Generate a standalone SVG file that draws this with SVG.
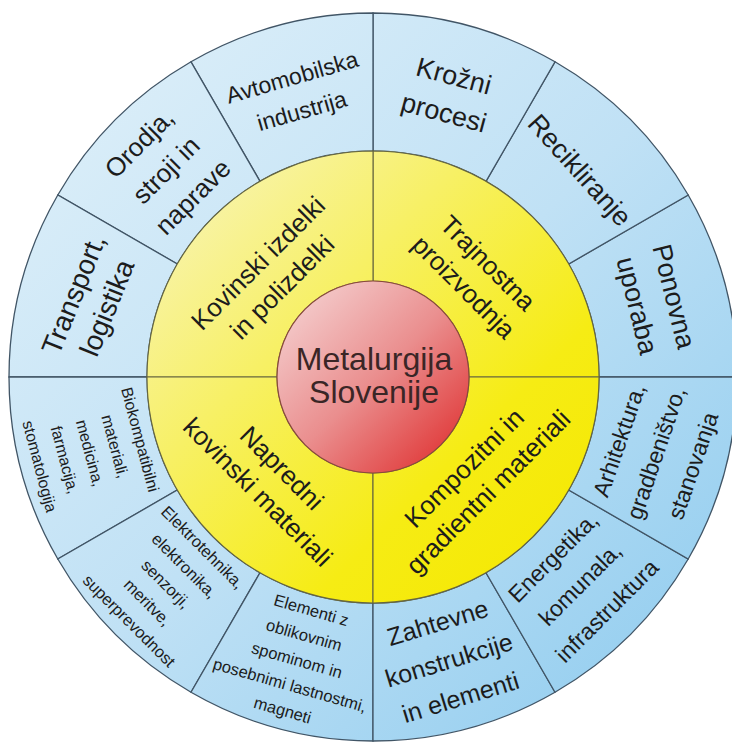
<svg xmlns="http://www.w3.org/2000/svg" width="732" height="742" viewBox="0 0 732 742">
<defs>
<linearGradient id="gBlue" gradientUnits="userSpaceOnUse" x1="60" y1="60" x2="690" y2="700">
<stop offset="0" stop-color="#ddeff9"/>
<stop offset="0.5" stop-color="#c0e1f5"/>
<stop offset="1" stop-color="#92cdef"/>
</linearGradient>
<linearGradient id="gYellow" gradientUnits="userSpaceOnUse" x1="170" y1="170" x2="580" y2="580">
<stop offset="0" stop-color="#f8f4b8"/>
<stop offset="0.35" stop-color="#f7f065"/>
<stop offset="0.7" stop-color="#f6ec14"/>
<stop offset="1" stop-color="#f5e800"/>
</linearGradient>
<linearGradient id="gRed" gradientUnits="userSpaceOnUse" x1="290" y1="290" x2="460" y2="465">
<stop offset="0" stop-color="#f5d2d2"/>
<stop offset="0.5" stop-color="#ea8e8e"/>
<stop offset="1" stop-color="#df2e2e"/>
</linearGradient>
<style>
.ob{fill:url(#gBlue);stroke:#415566;stroke-width:1.3}
.yl{fill:url(#gYellow);stroke:#66663f;stroke-width:1.1}
.t{font-family:"Liberation Sans",Arial,sans-serif;fill:#1c1c1c;text-anchor:middle}
.big{font-size:27px}
.mid{font-size:23px}
.sm{font-size:16.5px}
.yt{font-size:26px}
</style>
</defs>
<rect width="732" height="742" fill="#ffffff"/>

<g id="ponovna-uporaba">
<path class="ob" d="M737,377 A364,364 0 0 0 688.2,195 L568.7,264 A226,226 0 0 1 599,377 Z"/>
<text class="t big" transform="translate(656 301) rotate(76)"><tspan x="0" y="-9.5">Ponovna</tspan><tspan x="0" y="28.5">uporaba</tspan></text>
</g>
<g id="recikliranje">
<path class="ob" d="M688.2,195 A364,364 0 0 0 555,61.8 L486,181.3 A226,226 0 0 1 568.7,264 Z"/>
<text class="t big" transform="translate(580 170) rotate(48)"><tspan x="0" y="9.5">Recikliranje</tspan></text>
</g>
<g id="krozni-procesi">
<path class="ob" d="M555,61.8 A364,364 0 0 0 373,13 L373,151 A226,226 0 0 1 486,181.3 Z"/>
<text class="t big" transform="translate(449 94) rotate(15)"><tspan x="0" y="-9.5">Krožni</tspan><tspan x="0" y="28.5">procesi</tspan></text>
</g>
<g id="avtomobilska-industrija">
<path class="ob" d="M373,13 A364,364 0 0 0 191,61.8 L260,181.3 A226,226 0 0 1 373,151 Z"/>
<text class="t mid" transform="translate(297 94) rotate(-16)"><tspan x="0" y="-9.5">Avtomobilska</tspan><tspan x="0" y="25.5">industrija</tspan></text>
</g>
<g id="orodja-stroji-naprave">
<path class="ob" d="M191,61.8 A364,364 0 0 0 57.8,195 L177.3,264 A226,226 0 0 1 260,181.3 Z"/>
<text class="t" style="font-size:26px" transform="translate(166 170) rotate(-45)"><tspan x="0" y="-28.9">Orodja,</tspan><tspan x="0" y="9.1">stroji in</tspan><tspan x="0" y="47.1">naprave</tspan></text>
</g>
<g id="transport-logistika">
<path class="ob" d="M57.8,195 A364,364 0 0 0 9,377 L147,377 A226,226 0 0 1 177.3,264 Z"/>
<text class="t" style="font-size:28px" transform="translate(90 301) rotate(-68)"><tspan x="0" y="-8.2">Transport,</tspan><tspan x="0" y="27.8">logistika</tspan></text>
</g>
<g id="biokompatibilni-materiali">
<path class="ob" d="M9,377 A364,364 0 0 0 57.8,559 L177.3,490 A226,226 0 0 1 147,377 Z"/>
<text class="t" style="font-size:16px" transform="translate(90 453) rotate(75)"><tspan x="0" y="-46.4">Biokompatibilni</tspan><tspan x="0" y="-20.4">materiali,</tspan><tspan x="0" y="5.6">medicina,</tspan><tspan x="0" y="31.6">farmacija,</tspan><tspan x="0" y="57.6">stomatologija</tspan></text>
</g>
<g id="elektrotehnika-elektronika">
<path class="ob" d="M57.8,559 A364,364 0 0 0 191,692.2 L260,572.7 A226,226 0 0 1 177.3,490 Z"/>
<text class="t sm" transform="translate(166 584) rotate(45)"><tspan x="0" y="-46.2">Elektrotehnika,</tspan><tspan x="0" y="-20.2">elektronika,</tspan><tspan x="0" y="5.8">senzorji,</tspan><tspan x="0" y="31.8">meritve,</tspan><tspan x="0" y="57.8">superprevodnost</tspan></text>
</g>
<g id="elementi-z-oblikovnim-spominom">
<path class="ob" d="M191,692.2 A364,364 0 0 0 373,741 L373,603 A226,226 0 0 1 260,572.7 Z"/>
<text class="t sm" transform="translate(297 660) rotate(16)"><tspan x="0" y="-46.2">Elementi z</tspan><tspan x="0" y="-20.2">oblikovnim</tspan><tspan x="0" y="5.8">spominom in</tspan><tspan x="0" y="31.8">posebnimi lastnostmi,</tspan><tspan x="0" y="57.8">magneti</tspan></text>
</g>
<g id="zahtevne-konstrukcije">
<path class="ob" d="M373,741 A364,364 0 0 0 555,692.2 L486,572.7 A226,226 0 0 1 373,603 Z"/>
<text class="t" style="font-size:25px" transform="translate(449 660) rotate(-17)"><tspan x="0" y="-30.25">Zahtevne</tspan><tspan x="0" y="8.75">konstrukcije</tspan><tspan x="0" y="47.75">in elementi</tspan></text>
</g>
<g id="energetika-komunala">
<path class="ob" d="M555,692.2 A364,364 0 0 0 688.2,559 L568.7,490 A226,226 0 0 1 486,572.7 Z"/>
<text class="t mid" transform="translate(580 584) rotate(-45)"><tspan x="0" y="-30">Energetika,</tspan><tspan x="0" y="8">komunala,</tspan><tspan x="0" y="46">infrastruktura</tspan></text>
</g>
<g id="arhitektura-gradbenistvo">
<path class="ob" d="M688.2,559 A364,364 0 0 0 737,377 L599,377 A226,226 0 0 1 568.7,490 Z"/>
<text class="t mid" transform="translate(656 453) rotate(-71)"><tspan x="0" y="-31">Arhitektura,</tspan><tspan x="0" y="8">gradbeništvo,</tspan><tspan x="0" y="47">stanovanja</tspan></text>
</g>

<g id="trajnostna-proizvodnja">
<path class="yl" d="M599,377 A226,226 0 0 0 373,151 L373,281 A96,96 0 0 1 469,377 Z"/>
<text class="t yt" transform="translate(476 275) rotate(45)"><tspan x="0" y="-7.9">Trajnostna</tspan><tspan x="0" y="26.1">proizvodnja</tspan></text>
</g>
<g id="kovinski-izdelki">
<path class="yl" d="M373,151 A226,226 0 0 0 147,377 L277,377 A96,96 0 0 1 373,281 Z"/>
<text class="t yt" transform="translate(270 275) rotate(-45)"><tspan x="0" y="-7.9">Kovinski izdelki</tspan><tspan x="0" y="26.1">in polizdelki</tspan></text>
</g>
<g id="napredni-kovinski-materiali">
<path class="yl" d="M147,377 A226,226 0 0 0 373,603 L373,473 A96,96 0 0 1 277,377 Z"/>
<text class="t yt" transform="translate(270 480) rotate(45)"><tspan x="0" y="-7.9">Napredni</tspan><tspan x="0" y="26.1">kovinski materiali</tspan></text>
</g>
<g id="kompozitni-gradientni">
<path class="yl" d="M373,603 A226,226 0 0 0 599,377 L469,377 A96,96 0 0 1 373,473 Z"/>
<text class="t yt" transform="translate(476 480) rotate(-45)"><tspan x="0" y="-7.9">Kompozitni in</tspan><tspan x="0" y="26.1">gradientni materiali</tspan></text>
</g>

<g id="metalurgija-slovenije">
<circle cx="373" cy="377" r="96" fill="url(#gRed)" stroke="#8a4a3a" stroke-width="1.2"/>
<text class="t" style="font-size:32px;fill:#3a2626"><tspan x="374" y="370">Metalurgija</tspan><tspan x="374" y="403">Slovenije</tspan></text>
</g>
</svg>
